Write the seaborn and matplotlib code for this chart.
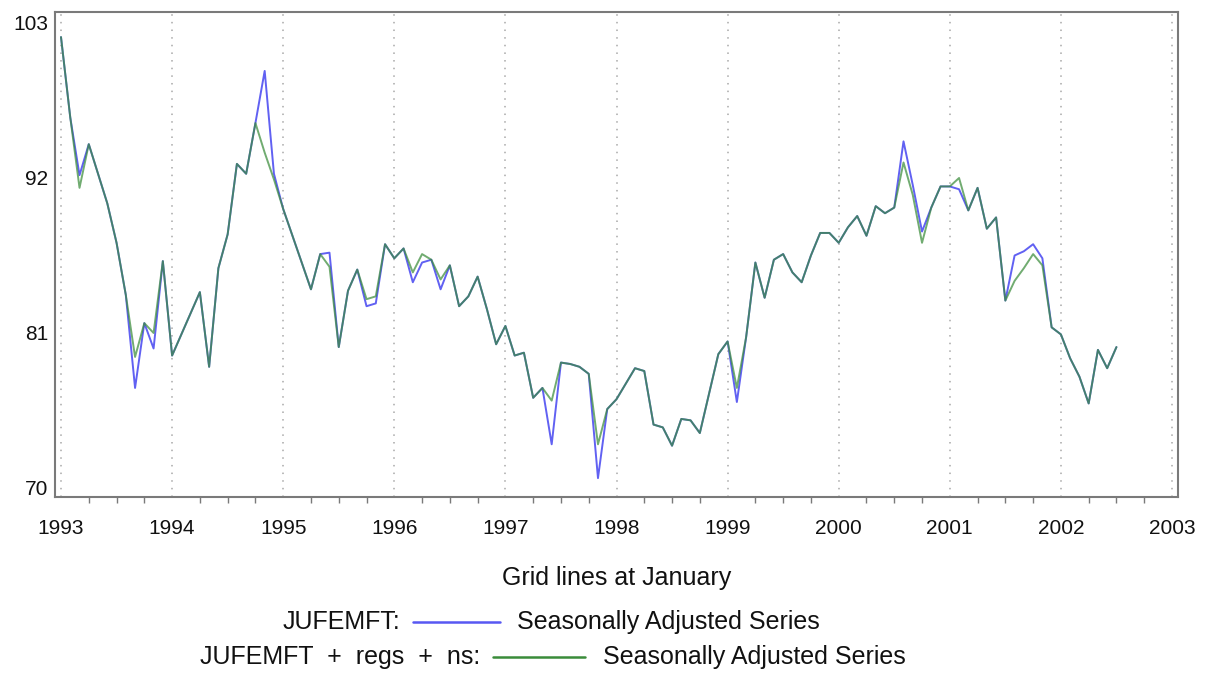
import numpy as np
import pandas as pd
import matplotlib
matplotlib.use("Agg")
import matplotlib.pyplot as plt
from matplotlib.lines import Line2D
from matplotlib.ticker import FixedLocator, MultipleLocator
import seaborn as sns

# Monthly seasonally adjusted series, Jan 1993 - Jul 2002
start_year = 1993
sa_base = [
    102.0, 96.3, 92.2, 94.4, 92.3, 90.2, 87.4, 83.7, 77.1, 81.7, 79.9, 86.1,
    79.4, 80.9, 82.4, 83.9, 78.6, 85.6, 88.0, 93.0, 92.3, 95.9, 99.6, 92.3,
    89.8, 87.9, 86.0, 84.1, 86.6, 86.7, 80.0, 84.0, 85.5, 82.9, 83.1, 87.3,
    86.3, 87.0, 84.6, 86.0, 86.2, 84.1, 85.8, 82.9, 83.6, 85.0, 82.7, 80.2,
    81.5, 79.4, 79.6, 76.4, 77.1, 73.1, 78.9, 78.8, 78.6, 78.1, 70.7, 75.6,
    76.3, 77.4, 78.5, 78.3, 74.5, 74.3, 73.0, 74.9, 74.8, 73.9, 76.7, 79.5,
    80.4, 76.1, 80.7, 86.0, 83.5, 86.2, 86.6, 85.3, 84.6, 86.5, 88.1, 88.1,
    87.4, 88.5, 89.3, 87.9, 90.0, 89.5, 89.9, 94.6, 91.5, 88.2, 89.9, 91.4,
    91.4, 91.2, 89.7, 91.3, 88.4, 89.2, 83.3, 86.5, 86.8, 87.3, 86.3, 81.4,
    80.9, 79.2, 77.9, 76.0, 79.8, 78.5, 80.0,
]
sa_regs = [
    102.0, 96.3, 91.3, 94.4, 92.3, 90.2, 87.4, 83.7, 79.3, 81.7, 81.0, 86.1,
    79.4, 80.9, 82.4, 83.9, 78.6, 85.6, 88.0, 93.0, 92.3, 95.9, 93.8, 91.9,
    89.8, 87.9, 86.0, 84.1, 86.6, 85.7, 80.0, 84.0, 85.5, 83.4, 83.6, 87.3,
    86.3, 87.0, 85.3, 86.6, 86.2, 84.8, 85.8, 82.9, 83.6, 85.0, 82.7, 80.2,
    81.5, 79.4, 79.6, 76.4, 77.1, 76.2, 78.9, 78.8, 78.6, 78.1, 73.1, 75.6,
    76.3, 77.4, 78.5, 78.3, 74.5, 74.3, 73.0, 74.9, 74.8, 73.9, 76.7, 79.5,
    80.4, 77.1, 80.7, 86.0, 83.5, 86.2, 86.6, 85.3, 84.6, 86.5, 88.1, 88.1,
    87.4, 88.5, 89.3, 87.9, 90.0, 89.5, 89.9, 93.1, 90.8, 87.4, 89.9, 91.4,
    91.4, 92.0, 89.7, 91.3, 88.4, 89.2, 83.3, 84.7, 85.6, 86.6, 85.8, 81.4,
    80.9, 79.2, 77.9, 76.0, 79.8, 78.5, 80.0,
]
series_names = ["JUFEMFT", "JUFEMFT + regs + ns"]
series_colors = ["#5858f2", "#3a8c3a"]
year_ticks = list(range(1993, 2004))
y_ticks = [70, 81, 92, 103]
x_title = "Grid lines at January"
legend_prefix = ["JUFEMFT:", "JUFEMFT  +  regs  +  ns:"]
legend_text = "Seasonally Adjusted Series"

n = len(sa_base)
t = start_year + np.arange(n) / 12.0
df = pd.concat([
    pd.DataFrame({"time": t, "value": sa_base, "series": series_names[0]}),
    pd.DataFrame({"time": t, "value": sa_regs, "series": series_names[1]}),
], ignore_index=True)

sns.set_theme(style="white")
plt.rcParams["font.family"] = ["Liberation Sans", "DejaVu Sans"]

W, H = 1215, 673
fig = plt.figure(figsize=(W / 100, H / 100), dpi=100)
ax = fig.add_axes([55 / W, 1 - 497 / H, (1178 - 55) / W, (497 - 12) / H])

sns.lineplot(data=df, x="time", y="value", hue="series",
             hue_order=series_names, palette=series_colors,
             linewidth=1.4, legend=False, ax=ax)
# green drawn over blue, partly see-through so the overlap reads darker
ax.lines[0].set_alpha(0.95)
ax.lines[1].set_alpha(0.72)

ax.set_xlim(1992.946, 2003.054)
ax.set_ylim(69.36, 103.78)

# January grid lines
for yr in year_ticks:
    ax.axvline(yr, color="#a8a8a8", linewidth=1.1,
               linestyle=(0, (1, 4)), zorder=0)

ax.xaxis.set_major_locator(FixedLocator(year_ticks))
ax.xaxis.set_minor_locator(MultipleLocator(0.25))
ax.yaxis.set_major_locator(FixedLocator(y_ticks))
ax.set_xticklabels([str(y) for y in year_ticks])
ax.set_yticklabels([str(v) for v in y_ticks])

spine_col = "#7a7a7a"
for s in ax.spines.values():
    s.set_color(spine_col)
    s.set_linewidth(1.5)
ax.tick_params(axis="x", which="major", direction="out", length=7, width=1.2,
               color=spine_col, labelsize=15, pad=9, labelcolor="#111111")
ax.tick_params(axis="x", which="minor", direction="out", length=4, width=1.0,
               color=spine_col, bottom=True)
ax.tick_params(axis="y", which="major", direction="out", length=5, width=1.2,
               color=spine_col, labelsize=15, pad=0, labelcolor="#111111")
ax.set_xlabel(x_title, fontsize=18, color="#111111", labelpad=20)
ax.set_ylabel("")

# Legend rows: prefix label, line sample, description
rows = [(622, 400, 413, 500, 517), (657, 480, 493, 585, 603)]
for (yy, px, l0, l1, tx), pre, col in zip(rows, legend_prefix, series_colors):
    yf = 1 - yy / H
    fig.text(px / W, yf, pre, ha="right", va="center", fontsize=18,
             color="#111111")
    fig.add_artist(Line2D([l0 / W, l1 / W], [yf, yf], color=col,
                          linewidth=1.8, transform=fig.transFigure))
    fig.text(tx / W, yf, legend_text, ha="left", va="center", fontsize=18,
             color="#111111")

fig.savefig("out.png", dpi=100, facecolor="white")
